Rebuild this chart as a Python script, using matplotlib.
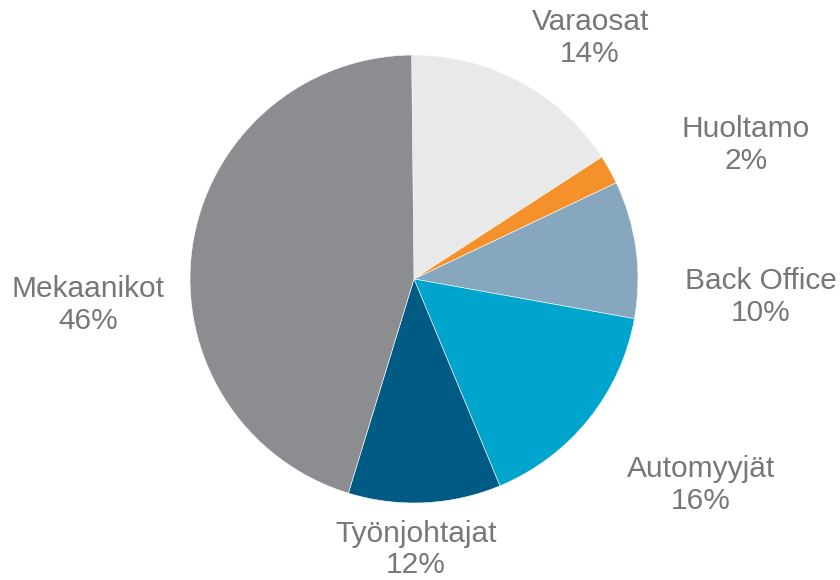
import matplotlib.pyplot as plt

# slices clockwise from 12 o'clock
labels = ["Varaosat", "Huoltamo", "Back Office", "Automyyjät", "Työnjohtajat", "Mekaanikot"]
shares = [16.0, 2.1, 9.9, 15.9, 11.0, 45.1]
pct_text = ["14%", "2%", "10%", "16%", "12%", "46%"]
colors = ["#E9E9E9", "#F5912A", "#86A7BD", "#00A5CE", "#005B84", "#8C8D91"]

# label block centres, in pie radius units from the pie centre
label_pos = [(0.786, 1.076), (1.482, 0.598), (1.549, -0.080),
             (1.281, -0.920), (0.009, -1.208), (-1.455, -0.116)]

plt.rcParams['font.family'] = ['Liberation Sans', 'DejaVu Sans']

W, H = 840, 580
cx, cy, R = 414, 279, 224   # pie centre and radius in pixels (from top)

fig = plt.figure(figsize=(W / 100, H / 100), dpi=100)
ax = fig.add_axes([0, 0, 1, 1])
ax.pie(shares, colors=colors, startangle=90.6, counterclock=False,
       radius=1.0, wedgeprops=dict(edgecolor="white", linewidth=0.4))
ax.set_xlim(-cx / R, (W - cx) / R)
ax.set_ylim(-(H - cy) / R, cy / R)
ax.set_aspect('equal')
ax.axis('off')

for name, pct, (x, y) in zip(labels, pct_text, label_pos):
    ax.text(x, y, name + "\n" + pct, ha="center", va="center",
            fontsize=21.5, color="#777777", linespacing=1.15)

fig.savefig("out.png", dpi=100)
